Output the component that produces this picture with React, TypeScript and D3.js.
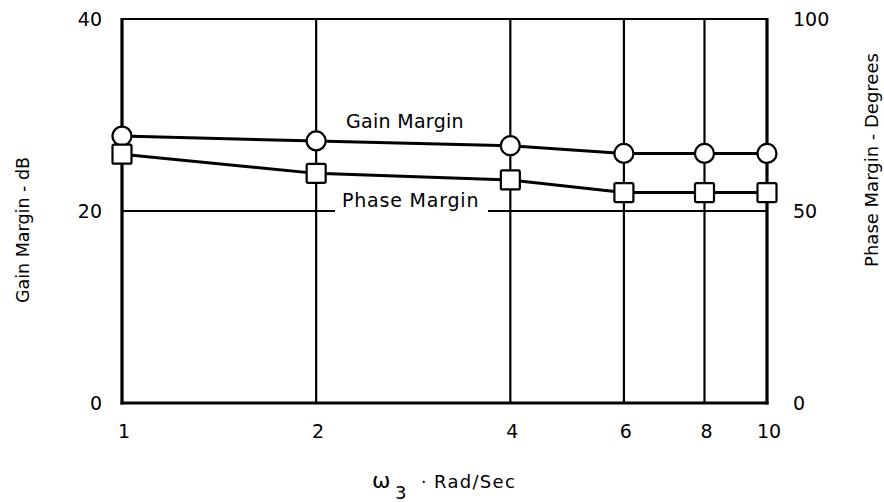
import React from "react";
import * as d3 from "d3";

// Crossover frequency ω3 (rad/sec) and the stability margins measured at each
const omega = [1, 2, 4, 6, 8, 10];
const gainMargin = [27.8, 27.3, 26.8, 26.0, 26.0, 26.0]; // dB
const phaseMargin = [64.8, 59.8, 58.1, 54.8, 54.8, 54.8]; // degrees

const xTicks = [1, 2, 4, 6, 8, 10];
const leftTicks = [0, 20, 40];
const rightTicks = [0, 50, 100];
const referenceGain = 20; // dB, reference line (equals 50° on the right scale)

const W = 884;
const H = 502;
const margin = { left: 122, right: 117, top: 19, bottom: 99 };
const FONT = "'DejaVu Sans', Verdana, sans-serif";

export default function App() {
  const x = d3
    .scaleLog()
    .domain([1, 10])
    .range([margin.left, W - margin.right]);
  const yL = d3
    .scaleLinear()
    .domain([0, 40])
    .range([H - margin.bottom, margin.top]);
  const yR = d3
    .scaleLinear()
    .domain([0, 100])
    .range([H - margin.bottom, margin.top]);

  const x0 = x(1);
  const x1 = x(10);
  const yTop = yL(40);
  const yBot = yL(0);

  const gainLine = d3
    .line<number>()
    .x((_, i) => x(omega[i]))
    .y((d) => yL(d))(gainMargin) as string;
  const phaseLine = d3
    .line<number>()
    .x((_, i) => x(omega[i]))
    .y((d) => yR(d))(phaseMargin) as string;

  // "Phase Margin" label sits on a break in the reference line
  const phaseLabelX = 342;
  const phaseLabelW = 138;
  const gapL = phaseLabelX - 7;
  const gapR = phaseLabelX + phaseLabelW + 8;
  const yRef = yL(referenceGain);

  const sq = 19;

  return (
    <svg
      width={W}
      height={H}
      viewBox={`0 0 ${W} ${H}`}
      style={{ position: "absolute", left: 0, top: 0, background: "#fff" }}
      fontFamily={FONT}
    >
      <rect x={0} y={0} width={W} height={H} fill="#fff" />

      {/* vertical grid lines */}
      {xTicks
        .filter((t) => t !== 1 && t !== 10)
        .map((t) => (
          <line
            key={`g${t}`}
            x1={x(t)}
            x2={x(t)}
            y1={yTop}
            y2={yBot}
            stroke="#000"
            strokeWidth={2.2}
          />
        ))}

      {/* frame */}
      <line x1={x0} x2={x1} y1={yTop} y2={yTop} stroke="#000" strokeWidth={2} />
      <line x1={x0} x2={x0} y1={yTop - 1} y2={yBot + 1.5} stroke="#000" strokeWidth={3.2} />
      <line x1={x1} x2={x1} y1={yTop - 1} y2={yBot + 1.5} stroke="#000" strokeWidth={3.2} />
      <line x1={x0 - 1.5} x2={x1 + 1.5} y1={yBot} y2={yBot} stroke="#000" strokeWidth={3.2} />

      {/* reference line at 20 dB / 50° */}
      <line x1={x0} x2={gapL} y1={yRef} y2={yRef} stroke="#000" strokeWidth={2} />
      <line x1={gapR} x2={x1} y1={yRef} y2={yRef} stroke="#000" strokeWidth={2} />

      {/* series lines */}
      <path d={gainLine} fill="none" stroke="#000" strokeWidth={3} />
      <path d={phaseLine} fill="none" stroke="#000" strokeWidth={3} />

      {/* markers */}
      {gainMargin.map((v, i) => (
        <circle
          key={`c${i}`}
          cx={x(omega[i])}
          cy={yL(v)}
          r={9.5}
          fill="#fff"
          stroke="#000"
          strokeWidth={2.2}
        />
      ))}
      {phaseMargin.map((v, i) => (
        <rect
          key={`s${i}`}
          x={x(omega[i]) - sq / 2}
          y={yR(v) - sq / 2}
          width={sq}
          height={sq}
          rx={1.5}
          fill="#fff"
          stroke="#000"
          strokeWidth={2.2}
        />
      ))}

      {/* series labels */}
      <text x={346} y={128} fontSize={19} letterSpacing={0.3} fill="#000">
        Gain Margin
      </text>
      <text x={phaseLabelX} y={207} fontSize={19} letterSpacing={0.8} fill="#000">
        Phase Margin
      </text>

      {/* left axis ticks */}
      {leftTicks.map((t) => (
        <text
          key={`l${t}`}
          x={102}
          y={yL(t)}
          dy="0.36em"
          textAnchor="end"
          fontSize={19}
          fill="#000"
        >
          {t}
        </text>
      ))}
      {/* right axis ticks */}
      {rightTicks.map((t) => (
        <text
          key={`r${t}`}
          x={793}
          y={yR(t)}
          dy="0.36em"
          textAnchor="start"
          fontSize={19}
          fill="#000"
        >
          {t}
        </text>
      ))}
      {/* x axis ticks */}
      {xTicks.map((t) => (
        <text
          key={`x${t}`}
          x={x(t) + 2}
          y={438}
          textAnchor="middle"
          fontSize={19}
          fill="#000"
        >
          {t}
        </text>
      ))}

      {/* axis titles */}
      <text
        transform={`translate(29,230) rotate(-90)`}
        textAnchor="middle"
        fontSize={17.5}
        fill="#000"
      >
        Gain Margin - dB
      </text>
      <text
        transform={`translate(878,160) rotate(-90)`}
        textAnchor="middle"
        fontSize={18}
        fill="#000"
      >
        Phase Margin - Degrees
      </text>
      <g fill="#000">
        <text x={372} y={488} fontSize={22}>ω</text>
        <text x={395} y={499} fontSize={18}>3</text>
        <text x={421} y={488} fontSize={17}>·</text>
        <text x={434} y={488} fontSize={18} letterSpacing={1.3}>Rad/Sec</text>
      </g>
    </svg>
  );
}
